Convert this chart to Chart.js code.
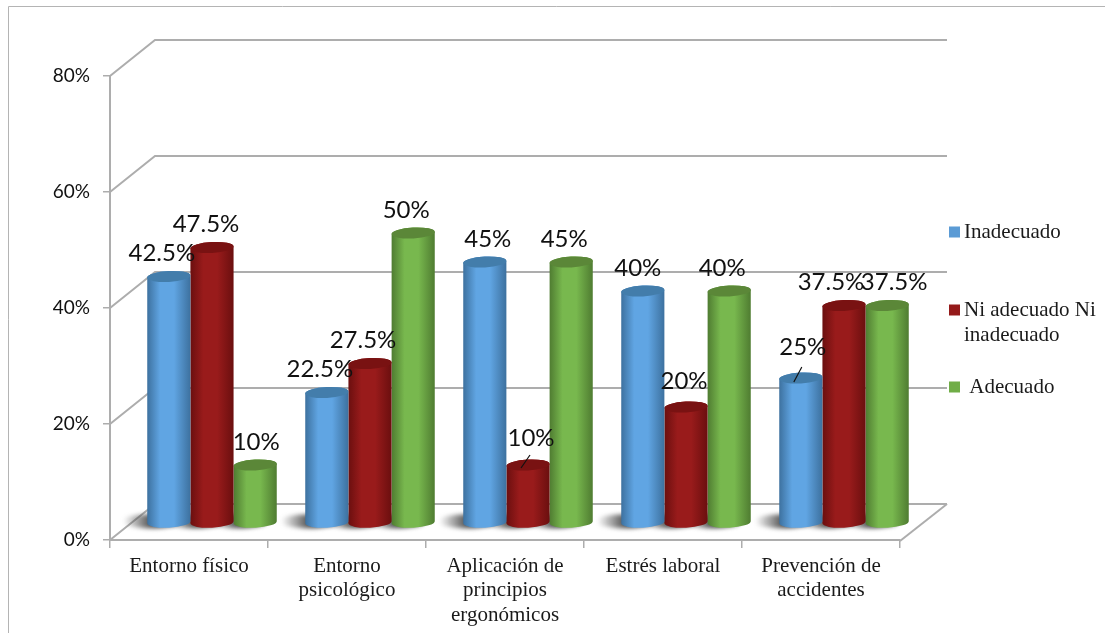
<!DOCTYPE html>
<html>
<head>
<meta charset="utf-8">
<title>Condiciones de trabajo</title>
<script src="https://cdn.jsdelivr.net/npm/chart.js@4/dist/chart.umd.js"></script>
<style>
  html, body { margin: 0; padding: 0; background: #fff; }
  #wrap { position: relative; width: 1105px; height: 633px; }
</style>
</head>
<body>
<div id="wrap"><canvas id="grafico" width="1105" height="633"></canvas></div>
<script>
const categorias = [
    ['Entorno físico'],
    ['Entorno', 'psicológico'],
    ['Aplicación de', 'principios', 'ergonómicos'],
    ['Estrés laboral'],
    ['Prevención de', 'accidentes']
];
const inadecuado = [42.5, 22.5, 45, 40, 25];
const niAdecuado = [47.5, 27.5, 10, 20, 37.5];
const adecuado   = [10, 50, 45, 40, 37.5];
const yTicks = [0, 20, 40, 60, 80];

const LABEL_FONT = '24px Lato, "Noto Sans", sans-serif';
const SERIF_FONT = '21px "Liberation Serif", serif';
const LINE_GRAY = '#adadad';

// depth of the fake 3D box: back wall offset and where the cylinders stand
const DEPTH_X = 45, DEPTH_Y = 36;
const BAR_DX = 23, BAR_DY = 17;
const TILT = -0.05, CAP_RY = 5.5;

const shades = {
    '#5b9bd5': { edge: '#3d719f', mid: '#60a5e3', cap: '#437dab' },
    '#951a1a': { edge: '#6b0f0f', mid: '#991b1b', cap: '#791212' },
    '#70ad47': { edge: '#4f7c31', mid: '#78b84e', cap: '#5b8738' }
};

// the bars are cylinders, so swap the rectangle for a shaded body and cap
Chart.BarElement.prototype.draw = function (ctx) {
    const c = shades[this.options.backgroundColor];
    const rx = this.width / 2;
    const cx = this.x + BAR_DX;
    const top = this.y - BAR_DY;
    const bottom = this.base - BAR_DY;

    const grad = ctx.createLinearGradient(cx - rx, 0, cx + rx, 0);
    grad.addColorStop(0, c.edge);
    grad.addColorStop(0.3, c.mid);
    grad.addColorStop(0.62, c.mid);
    grad.addColorStop(1, c.edge);

    ctx.save();
    ctx.fillStyle = grad;
    ctx.beginPath();
    ctx.ellipse(cx, bottom, rx, CAP_RY, TILT, Math.PI, 0, true);
    ctx.ellipse(cx, top, rx, CAP_RY, TILT, 0, Math.PI, true);
    ctx.closePath();
    ctx.fill();

    ctx.fillStyle = c.cap;
    ctx.beginPath();
    ctx.ellipse(cx, top, rx, CAP_RY, TILT, 0, Math.PI * 2);
    ctx.fill();
    ctx.restore();
};

function line(ctx, pts) {
    ctx.beginPath();
    pts.forEach((p, i) => i ? ctx.lineTo(p[0], p[1]) : ctx.moveTo(p[0], p[1]));
    ctx.stroke();
}

const caja3d = {
    id: 'caja3d',
    beforeDatasetsDraw(chart) {
        const { ctx, chartArea: a, scales: { y } } = chart;
        const backRight = a.right + DEPTH_X + 2;
        ctx.save();

        // frame around the whole chart
        ctx.strokeStyle = '#b4b4b4';
        ctx.lineWidth = 1;
        line(ctx, [[8.5, 633], [8.5, 6.5], [1105, 6.5]]);

        // walls and floor, one bent line per tick
        ctx.strokeStyle = LINE_GRAY;
        ctx.lineWidth = 2;
        yTicks.forEach(v => {
            const py = y.getPixelForValue(v);
            line(ctx, [[a.left, py], [a.left + DEPTH_X, py - DEPTH_Y], [backRight, py - DEPTH_Y]]);
        });
        const py0 = y.getPixelForValue(0);
        line(ctx, [[backRight, py0 - DEPTH_Y], [a.right, py0 + 1]]);

        // soft shadow on the floor, left of every bar
        chart.getSortedVisibleDatasetMetas().forEach(meta => {
            meta.data.forEach(bar => {
                const cx = bar.x + BAR_DX;
                const g = ctx.createLinearGradient(cx - bar.width / 2 - 24, 0, cx - bar.width / 2 + 4, 0);
                g.addColorStop(0, 'rgba(80,80,80,0)');
                g.addColorStop(1, 'rgba(80,80,80,1)');
                ctx.fillStyle = g;
                ctx.filter = 'blur(2px)';
                ctx.beginPath();
                ctx.ellipse(cx - bar.width / 2 + 4, bar.base - BAR_DY - 1, 30, 7, 0, 0, Math.PI * 2);
                ctx.fill();
                ctx.filter = 'none';
            });
        });
        ctx.restore();
    },
    afterDatasetsDraw(chart) {
        const { ctx } = chart;
        ctx.save();

        // value labels, nudged off the bar centre by hand
        const shift = [
            [[-7, 0], [-6, 0], [1, 0]],
            [[-7, 0], [-7, 0], [-7, 0]],
            [[3, 0], [3, -4], [-7, 0]],
            [[-5, 0], [-2, -3], [-7, 0]],
            [[2, -8], [-13, 0], [7, 0]]
        ];
        ctx.font = LABEL_FONT;
        ctx.fillStyle = '#111';
        ctx.textAlign = 'center';
        ctx.textBaseline = 'middle';
        chart.getSortedVisibleDatasetMetas().forEach((meta, s) => {
            meta.data.forEach((bar, i) => {
                const [dx, dy] = shift[i][s];
                const v = chart.data.datasets[s].data[i];
                ctx.fillText(v + '%', bar.x + BAR_DX + dx, bar.y - BAR_DY - 23 + dy);
            });
        });

        // leader lines of the two labels moved away from their bars
        ctx.strokeStyle = '#111';
        ctx.lineWidth = 1.2;
        const leader = (s, i, dx0, dy0, dx1, dy1) => {
            const bar = chart.getDatasetMeta(s).data[i];
            const x = bar.x + BAR_DX, y = bar.y - BAR_DY;
            line(ctx, [[x + dx0, y + dy0], [x + dx1, y + dy1]]);
        };
        leader(1, 2, -7, 3, 2, -10);
        leader(0, 4, -7, 4, 1, -11);

        // legend on the right
        const yLeg = [232, 310, 387];
        const textLeg = [['Inadecuado'], ['Ni adecuado Ni', 'inadecuado'], [' Adecuado']];
        ctx.font = SERIF_FONT;
        ctx.textAlign = 'left';
        chart.data.datasets.forEach((ds, s) => {
            ctx.fillStyle = ds.backgroundColor;
            ctx.fillRect(949, yLeg[s] - 5.5, 11, 11);
            ctx.fillStyle = '#1a1a1a';
            textLeg[s].forEach((t, k) => ctx.fillText(t, 964, yLeg[s] + k * 25));
        });
        ctx.restore();
    }
};

new Chart(document.getElementById('grafico'), {
    type: 'bar',
    data: {
        labels: categorias,
        datasets: [
            { label: 'Inadecuado', data: inadecuado, backgroundColor: '#5b9bd5' },
            { label: 'Ni adecuado Ni inadecuado', data: niAdecuado, backgroundColor: '#951a1a' },
            { label: 'Adecuado', data: adecuado, backgroundColor: '#70ad47' }
        ]
    },
    options: {
        responsive: false,
        animation: false,
        clip: false,
        layout: { padding: { top: 76, right: 205, left: 0, bottom: 0 } },
        categoryPercentage: 0.82,
        barPercentage: 1,
        plugins: {
            legend: { display: false },
            tooltip: { enabled: false }
        },
        scales: {
            x: {
                afterFit(scale) { scale.height = 93; },
                grid: { drawOnChartArea: false, color: LINE_GRAY, tickLength: 8, lineWidth: 1.5 },
                border: { color: LINE_GRAY, width: 2 },
                ticks: {
                    color: '#1a1a1a',
                    font: { family: '"Liberation Serif", serif', size: 21, lineHeight: 1.17 },
                    padding: 6,
                    maxRotation: 0,
                    autoSkip: false
                }
            },
            y: {
                min: 0,
                max: 80,
                afterFit(scale) { scale.width = 110; },
                afterBuildTicks(scale) { scale.ticks = yTicks.map(value => ({ value })); },
                grid: { drawOnChartArea: false, color: LINE_GRAY, tickLength: 7, lineWidth: 1.5 },
                border: { color: LINE_GRAY, width: 2 },
                ticks: {
                    color: '#111',
                    font: { family: 'Lato, "Noto Sans", sans-serif', size: 19 },
                    padding: 13,
                    callback: v => v + '%'
                }
            }
        }
    },
    plugins: [caja3d]
});
</script>
</body>
</html>
